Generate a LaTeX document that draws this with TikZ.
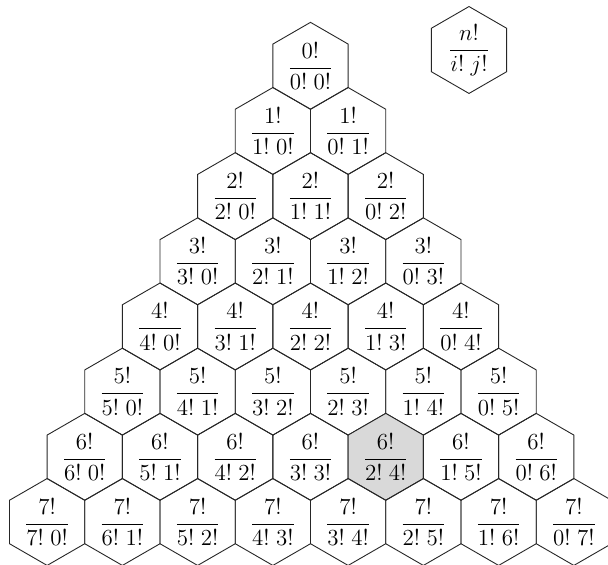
\documentclass[tikz,border=0pt]{standalone}
\usepackage{graphicx}
\usetikzlibrary{shapes.geometric}
\newcommand{\hexfrac}[2]{\scalebox{1.9167}{\large$\displaystyle\frac{#1}{#2}$}}
\begin{document}
\begin{tikzpicture}[x=1pt,y=1pt,
  hexcell/.style={regular polygon, regular polygon sides=6, shape border rotate=30,
    minimum size=86.9pt, inner sep=0pt, outer sep=0pt, draw=black!85, line width=0.9pt}]
\useasboundingbox (0,0) rectangle (608,565);
\foreach \r in {0,...,7}{
  \foreach \k in {0,...,\r}{
    \def\cf{none}
    \ifnum\r=6 \ifnum\k=4 \def\cf{black!15}\fi\fi
    \pgfmathtruncatemacro\j{\r-\k}
    \node[hexcell, fill=\cf] (h\r-\k) at ({310.5+(\k-\r/2)*75.25},{565-65.8-\r*65.17})
      {\hexfrac{\r!}{\j!\;\k!}};
  }
}
\node[hexcell] (legend) at (469,515) {\hexfrac{n!}{i!\;j!}};
\end{tikzpicture}
\end{document}
